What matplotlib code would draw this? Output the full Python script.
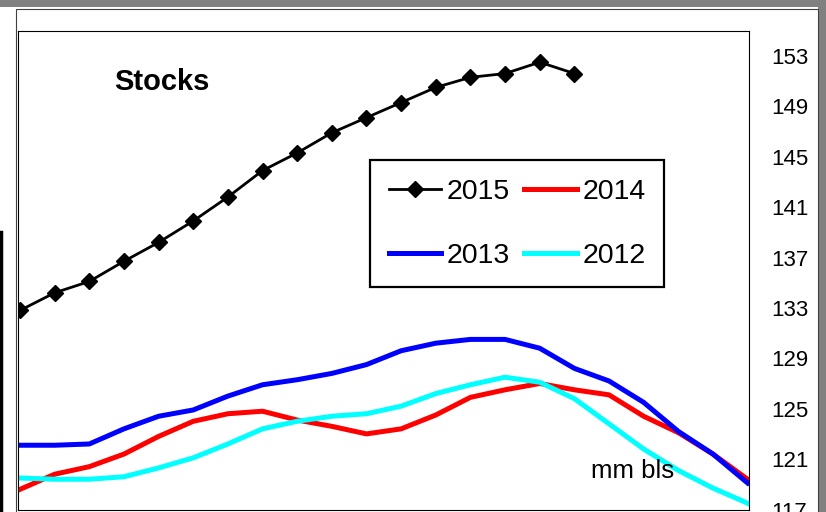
"""Stocks chart, weekly levels for 2012-2015"""

import matplotlib.pyplot as plt
import numpy as np

#week number for each point (22 weeks on the x axis)
weeks = list(range(1, 23))

#series values in mm bls
stocks_2015 = [132.8, 134.2, 135.1, 136.7, 138.2, 139.9, 141.8, 143.9, 145.3,
               146.9, 148.1, 149.3, 150.5, 151.3, 151.6, 152.5, 151.6]
stocks_2014 = [118.6, 119.8, 120.4, 121.4, 122.8, 124.0, 124.6, 124.8, 124.1,
               123.6, 123.0, 123.4, 124.5, 125.9, 126.5, 127.0, 126.5, 126.1,
               124.4, 123.1, 121.4, 119.4]
stocks_2013 = [122.1, 122.1, 122.2, 123.4, 124.4, 124.9, 126.0, 126.9, 127.3,
               127.8, 128.5, 129.6, 130.2, 130.5, 130.5, 129.8, 128.2, 127.2,
               125.5, 123.2, 121.4, 119.1]
stocks_2012 = [119.5, 119.4, 119.4, 119.6, 120.3, 121.1, 122.2, 123.4, 124.0,
               124.4, 124.6, 125.2, 126.2, 126.9, 127.5, 127.1, 125.8, 123.8,
               121.8, 120.1, 118.7, 117.5]

y_ticks = [117, 121, 125, 129, 133, 137, 141, 145, 149, 153]

W, H = 826, 512


def main():
    """Main function"""
    plt.rcParams['font.family'] = ['Liberation Sans', 'DejaVu Sans']

    fig = plt.figure(figsize=(W / 100, H / 100), dpi=100)
    fig.patch.set_facecolor('white')

    #sheet background strips (top and right) and chart area border
    fig.patches.append(plt.Rectangle((0, 1 - 7 / H), 1, 7 / H, transform=fig.transFigure,
                                     facecolor='#808080', edgecolor='none'))
    fig.patches.append(plt.Rectangle((818 / W, 0), 8 / W, 1, transform=fig.transFigure,
                                     facecolor='#808080', edgecolor='none'))
    fig.patches.append(plt.Rectangle((15.5 / W, -0.1), 802 / W, 1.1 - 9.3 / H,
                                     transform=fig.transFigure, facecolor='none',
                                     edgecolor='#404040', linewidth=0.8))
    #edge of the neighbouring chart on the left
    fig.lines.append(plt.Line2D([1 / W, 1 / W], [0, 1 - 232 / H], transform=fig.transFigure,
                                color='black', linewidth=2.5))

    #plot area
    ax = fig.add_axes([18 / W, 2.5 / H, (749 - 18) / W, (509.5 - 30.7) / H])
    x = np.array(weeks) - 1

    l15, = ax.plot(x[:len(stocks_2015)], stocks_2015, color='black', linewidth=2,
                   marker='D', markersize=8.5, label='2015')
    l14, = ax.plot(x, stocks_2014, color='#FF0000', linewidth=3.6, label='2014')
    l13, = ax.plot(x, stocks_2013, color='#0000FF', linewidth=3.6, label='2013')
    l12, = ax.plot(x, stocks_2012, color='#00FFFF', linewidth=3.6, label='2012')

    ax.set_xlim(-0.058, 21.04)
    ax.set_ylim(117, 155)
    ax.set_xticks([])
    ax.yaxis.tick_right()
    ax.set_yticks(y_ticks)
    ax.tick_params(axis='y', length=0, pad=16, labelsize=16)
    for s in ax.spines.values():
        s.set_color('black')
        s.set_linewidth(0.8)

    #legend, row by row: 2015 2014 / 2013 2012
    leg = fig.legend([l15, l13, l14, l12], ['2015', '2013', '2014', '2012'],
                     ncol=2, loc='upper left', bbox_to_anchor=(370 / W, 1 - 160 / H),
                     borderaxespad=0, fontsize=20.5, frameon=True, fancybox=False,
                     framealpha=1, edgecolor='black', handlelength=1.85,
                     handletextpad=0.2, columnspacing=0.5, labelspacing=1.34,
                     borderpad=0.65, markerscale=1.0)
    leg.get_frame().set_linewidth(1.6)

    fig.text(162 / W, 1 - 82.3 / H, 'Stocks', fontsize=21, fontweight='bold',
             ha='center', va='center')
    fig.text(633 / W, 1 - 471 / H, 'mm bls', fontsize=18.5, ha='center', va='center')

    plt.savefig('out.png', dpi=100)


if __name__ == "__main__":
    main()
